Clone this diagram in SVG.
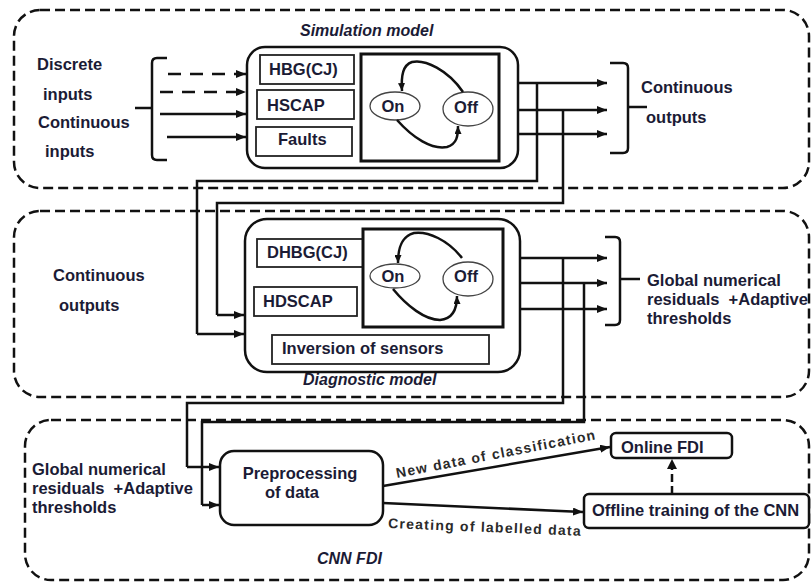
<svg xmlns="http://www.w3.org/2000/svg" width="811" height="583" viewBox="0 0 811 583">
<style>
.sec{fill:none;stroke:#111;stroke-width:2.5;stroke-dasharray:10 5}
.box{fill:#fff;stroke:#111;stroke-width:2.5}
.sub{fill:#fff;stroke:#222;stroke-width:1.8}
.st{fill:#fff;stroke:#111;stroke-width:3}
.ell{fill:#fff;stroke:#444;stroke-width:1.3}
.t{font-family:"Liberation Sans",Arial,sans-serif;font-weight:bold;font-size:16.5px;fill:#1b1b35}
.ti{font-family:"Liberation Sans",Arial,sans-serif;font-weight:bold;font-style:italic;font-size:16px;fill:#1b1b35}
.lb{font-family:"Liberation Sans",Arial,sans-serif;font-weight:bold;font-size:14px;fill:#2a2a2a;letter-spacing:1.25px}
.c{text-anchor:middle}
.ln{fill:none;stroke:#111;stroke-width:2.5}
.ar{fill:none;stroke:#111;stroke-width:2.5;marker-end:url(#ah)}
.das{fill:none;stroke:#111;stroke-width:2.5;stroke-dasharray:13 9;marker-end:url(#ah)}
.arc{fill:none;stroke:#111;stroke-width:2.5;marker-end:url(#sh)}
</style>
<defs>
<marker id="ah" viewBox="0 0 10 8" refX="10" refY="4" markerWidth="10" markerHeight="8" markerUnits="userSpaceOnUse" orient="auto"><path d="M0,0 L10,4 L0,8 z" fill="#111"/></marker>
<marker id="sh" viewBox="0 0 8 7" refX="8" refY="3.5" markerWidth="8" markerHeight="7" markerUnits="userSpaceOnUse" orient="auto"><path d="M0,0 L8,3.5 L0,7 z" fill="#111"/></marker>
</defs>

<!-- sections -->
<g id="simulation-section">
<rect class="sec" x="14" y="10" width="795" height="178" rx="26"/>
<text class="ti" x="300" y="36">Simulation model</text>
</g>
<g id="diagnostic-section">
<rect class="sec" x="14" y="211" width="795" height="186" rx="26"/>
<text class="ti" x="303" y="385">Diagnostic model</text>
</g>
<g id="cnn-section">
<rect class="sec" x="25" y="420" width="784" height="160" rx="26"/>
<text class="ti" x="317" y="564">CNN FDI</text>
</g>

<!-- input labels -->
<g id="inputs-label">
<text class="t" x="37" y="70">Discrete</text>
<text class="t" x="43" y="100">inputs</text>
<text class="t" x="38" y="128">Continuous</text>
<text class="t" x="45" y="157">inputs</text>
<path class="ln" d="M167,58 H157 Q152,58 152,63 V155 Q152,160 157,160 H167 M135,108 H152"/>
</g>

<!-- simulation model -->
<g id="simulation-model">
<rect class="box" x="247" y="47" width="271" height="121" rx="18"/>
<rect class="sub" x="260" y="55" width="94" height="29"/>
<text class="t" x="269" y="75">HBG(CJ)</text>
<rect class="sub" x="257" y="90" width="97" height="29"/>
<text class="t" x="267" y="111">HSCAP</text>
<rect class="sub" x="256" y="127" width="96" height="29"/>
<text class="t" x="278" y="145">Faults</text>
<rect class="st" x="361" y="54" width="138" height="107"/>
<ellipse class="ell" cx="395" cy="106" rx="25" ry="14"/>
<text class="t c" x="393" y="112">On</text>
<ellipse class="ell" cx="468" cy="109" rx="25" ry="17"/>
<text class="t c" x="466" y="113">Off</text>
<path class="arc" d="M463,92 C448,70 425,59 412,62 C403,65 401,75 402,91"/>
<path class="arc" d="M397,120 C413,138 432,150 447,147 C457,144 458,136 458,126"/>
</g>

<!-- top outputs label -->
<g id="sim-outputs-label">
<path class="ln" d="M610,63 H623 Q628,63 628,68 V148 Q628,153 623,153 H610 M628,107 H647"/>
<text class="t" x="641" y="93">Continuous</text>
<text class="t" x="646" y="123">outputs</text>
</g>

<!-- diagnostic inputs label -->
<g id="diag-inputs-label">
<text class="t" x="53" y="281">Continuous</text>
<text class="t" x="59" y="311">outputs</text>
</g>

<!-- diagnostic model -->
<g id="diagnostic-model">
<rect class="box" x="245" y="219" width="275" height="153" rx="22"/>
<rect class="sub" x="257" y="239" width="106" height="28"/>
<text class="t" x="267" y="258">DHBG(CJ)</text>
<rect class="sub" x="254" y="287" width="103" height="29"/>
<text class="t" x="263" y="307">HDSCAP</text>
<rect class="st" x="363" y="229" width="140" height="98"/>
<ellipse class="ell" cx="395" cy="276" rx="25" ry="12"/>
<text class="t c" x="393" y="282">On</text>
<ellipse class="ell" cx="468" cy="279" rx="25" ry="17"/>
<text class="t c" x="466" y="282">Off</text>
<path class="arc" d="M462,258 C448,240 428,231 414,233 C403,236 398,245 398,263"/>
<path class="arc" d="M393,289 C407,306 425,320 440,320 C452,319 457,310 457,296"/>
<rect class="sub" x="272" y="335" width="217" height="29"/>
<text class="t" x="282" y="354">Inversion of sensors</text>
</g>

<!-- diagnostic outputs label -->
<g id="diag-outputs-label">
<path class="ln" d="M605,237 H615 Q620,237 620,242 V320 Q620,325 615,325 H605 M620,279 H640"/>
<text class="t" x="647" y="286">Global numerical</text>
<text class="t" x="647" y="305" xml:space="preserve" style="white-space:pre">residuals  +Adaptive</text>
<text class="t" x="647" y="324">thresholds</text>
</g>

<!-- CNN FDI -->
<g id="cnn-inputs-label">
<text class="t" x="32" y="475">Global numerical</text>
<text class="t" x="32" y="494" xml:space="preserve" style="white-space:pre">residuals  +Adaptive</text>
<text class="t" x="32" y="513">thresholds</text>
</g>
<g id="preprocessing">
<rect class="box" x="220" y="451" width="163" height="74" rx="14"/>
<text class="t c" x="300" y="479">Preprocessing</text>
<text class="t c" x="292" y="498">of data</text>
</g>
<g id="online-fdi">
<rect class="box" x="611" y="433" width="121" height="25" rx="5"/>
<text class="t" x="621" y="453">Online FDI</text>
</g>
<g id="offline-training">
<rect class="box" x="584" y="494" width="225" height="34" rx="5"/>
<text class="t" x="592" y="516">Offline training of the CNN</text>
</g>

<!-- connectors -->
<g id="connectors">
<path class="das" d="M168,74 H246"/>
<path class="das" d="M160,92 H246"/>
<path class="ar" d="M160,114 H246"/>
<path class="ar" d="M167,137 H246"/>

<path class="ar" d="M518,83 H607"/>
<path class="ar" d="M518,110 H607"/>
<path class="ar" d="M518,134 H607"/>
<path class="ln" d="M537,83 V181 H197 V334"/>
<path class="ar" d="M197,334 H244"/>
<path class="ln" d="M563,110 V203 H217 V315"/>
<path class="ar" d="M217,315 H244"/>

<path class="ar" d="M520,258 H607"/>
<path class="ar" d="M520,283 H607"/>
<path class="ar" d="M520,309 H607"/>
<path class="ln" d="M563,258 V403 H187 V467"/>
<path class="ar" d="M187,467 H219"/>
<path class="ln" d="M584,283 V422 H202 V505"/>
<path class="ar" d="M202,505 H219"/>

<path class="ar" d="M383,486 L610,447"/>
<text class="lb" x="397" y="478" transform="rotate(-11 397 478)">New data of classification</text>
<path class="ar" d="M383,503 L583,512"/>
<text class="lb" x="388" y="528" transform="rotate(2.3 388 528)">Creating of labelled data</text>
<path class="ln" d="M672,494 V468" stroke-dasharray="8 4"/>
<path d="M667,469 L672,459 L677,469 z" fill="#111"/>
</g>
</svg>
